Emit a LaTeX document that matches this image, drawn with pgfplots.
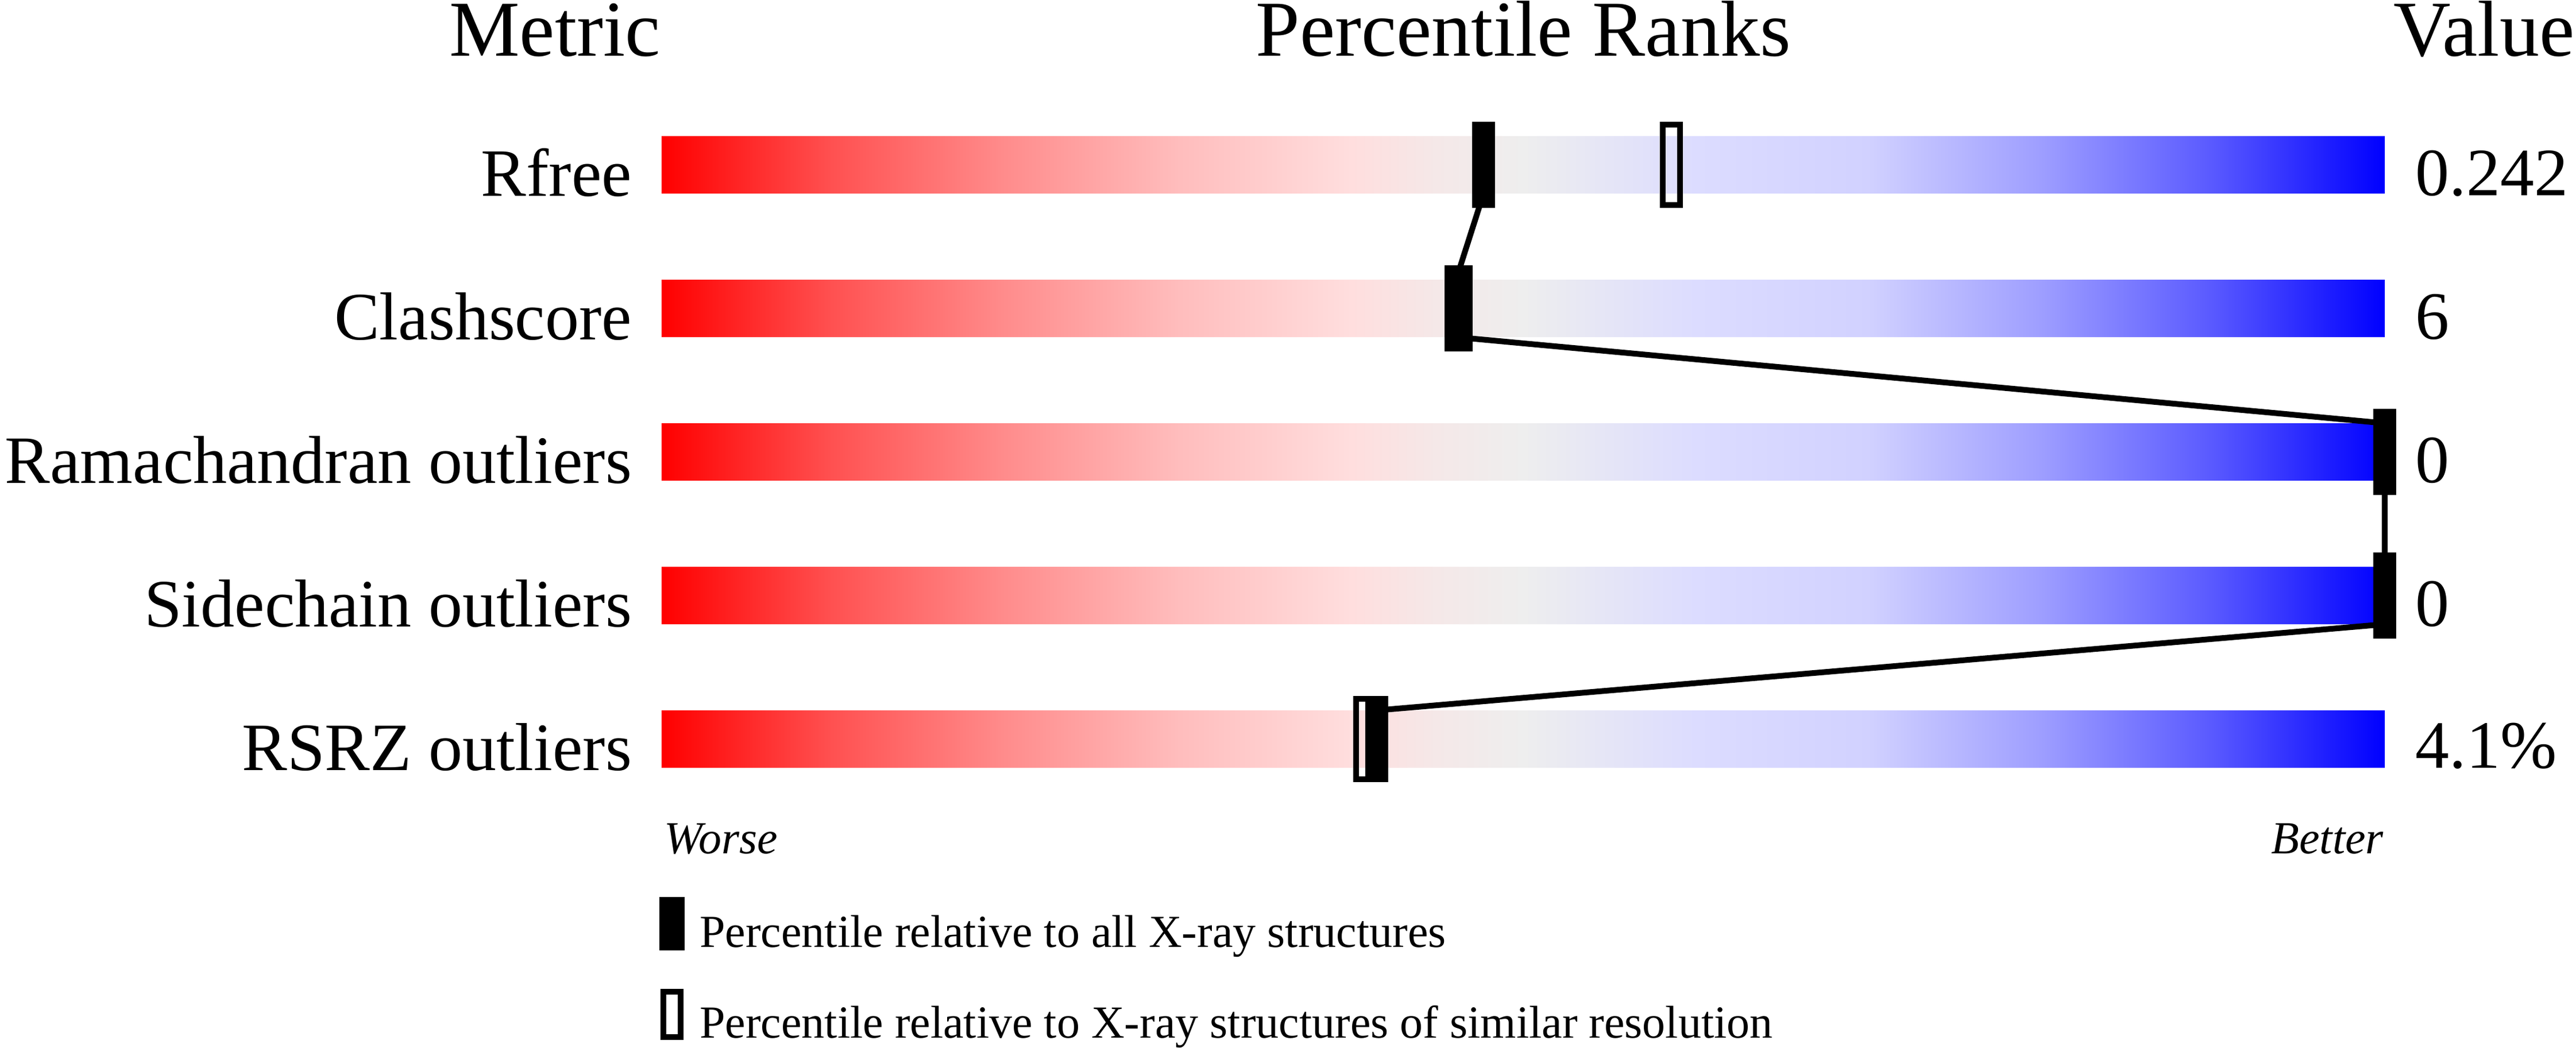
\documentclass[border=0pt]{standalone}
\usepackage{fontspec}
\setmainfont{Liberation Serif}
\usepackage{pgfplots}
\usepackage{pgfplotstable}
\pgfplotsset{compat=1.18}

\pgfdeclarehorizontalshading{pdbgrad}{100bp}{
 rgb(0bp)=(1,0,0);
 rgb(25bp)=(1,0,0);
 rgb(30bp)=(1,0.32,0.32);
 rgb(35bp)=(1,0.55,0.55);
 rgb(40bp)=(1,0.74,0.74);
 rgb(45bp)=(1,0.87,0.87);
 rgb(47.5bp)=(0.96,0.91,0.91);
 rgb(50bp)=(0.933,0.933,0.933);
 rgb(55bp)=(0.863,0.863,1);
 rgb(60bp)=(0.82,0.82,1);
 rgb(65bp)=(0.62,0.62,1);
 rgb(70bp)=(0.35,0.35,1);
 rgb(75bp)=(0,0,1);
 rgb(100bp)=(0,0,1)}

\pgfdeclareplotmark{pdbfull}{%
  \pgfpathrectanglecorners{\pgfqpoint{-2pt}{-7.5pt}}{\pgfqpoint{2pt}{7.5pt}}%
  \pgfusepathqfill}
\pgfdeclareplotmark{pdbopen}{%
  \pgfsetlinewidth{1pt}%
  \pgfpathrectanglecorners{\pgfqpoint{-1.5pt}{-7pt}}{\pgfqpoint{1.5pt}{7pt}}%
  \pgfusepathqstroke}

\pgfplotstableread{
y pall psim
1 47.7 58.6
2 46.1 46.4
3 100 100
4 100 100
5 41.5 40.8
}\ranks

\newcommand{\lab}{\fontsize{11.8}{14}\selectfont}
\newcommand{\ttl}{\fontsize{13.8}{16}\selectfont}
\newcommand{\sml}{\fontsize{8}{9.6}\selectfont}

\begin{document}
\begin{tikzpicture}
\begin{axis}[
  name=ax,
  scale only axis,
  width=300pt, height=125pt,
  xmin=0, xmax=100, ymin=0.5, ymax=5.5,
  y dir=reverse,
  clip=false,
  axis line style={draw=none},
  xtick=\empty,
  ytick={1,2,3,4,5},
  yticklabels={Rfree,Clashscore,Ramachandran outliers,Sidechain outliers,RSRZ outliers},
  major tick length=0pt,
  yticklabel style={font=\lab, anchor=base east, inner sep=0pt, xshift=-5pt, yshift=-5.4pt},
  legend cell align=left,
  legend style={at={(-0.0013,-0.12)}, anchor=north west, draw=none, fill=none,
    inner sep=0pt, outer sep=0pt, font=\sml, row sep=5.8pt,
    nodes={inner sep=0pt}, /tikz/column sep=0pt},
]
\addplot[xbar, bar width=10pt, draw=none, shading=pdbgrad, forget plot]
  coordinates {(100,1) (100,2) (100,3) (100,4) (100,5)};
\addplot[black, line width=1pt, mark=none, forget plot]
  coordinates {(47.7,1.2) (46.1,1.8) (46.1,2.2) (100,2.8) (100,3.2) (100,3.8) (100,4.2) (41.5,4.8)};
\addplot[only marks, mark=pdbfull, black,
  legend image code/.code={\fill[black] (0pt,-2.4pt) rectangle (4pt,6.5pt); \path (6.6pt,0pt);}]
  table[x=pall, y=y]{\ranks};
\addlegendentry{Percentile relative to all X-ray structures}
\addplot[only marks, mark=pdbopen, black,
  legend image code/.code={\draw[black, line width=1pt] (0.5pt,-1.9pt) rectangle (3.5pt,6.0pt); \path (6.6pt,0pt);}]
  table[x=psim, y=y]{\ranks};
\addlegendentry{Percentile relative to X-ray structures of similar resolution}

\node[anchor=base east, font=\ttl, inner sep=0pt] at (axis cs:0,0.24) {Metric};
\node[anchor=base, font=\ttl, inner sep=0pt] at (axis cs:50,0.24) {Percentile Ranks};
\node[anchor=base east, font=\ttl, inner sep=0pt] at (axis cs:111.07,0.24) {Value};

\node[anchor=base west, font=\lab, inner sep=0pt] at (axis cs:101.73,1.212) {0.242};
\node[anchor=base west, font=\lab, inner sep=0pt] at (axis cs:101.73,2.212) {6};
\node[anchor=base west, font=\lab, inner sep=0pt] at (axis cs:101.73,3.212) {0};
\node[anchor=base west, font=\lab, inner sep=0pt] at (axis cs:101.73,4.212) {0};
\node[anchor=base west, font=\lab, inner sep=0pt] at (axis cs:101.73,5.2) {4.1\%};

\node[anchor=base west, font=\sml\itshape, inner sep=0pt] at (axis cs:0.1,5.796) {Worse};
\node[anchor=base east, font=\sml\itshape, inner sep=0pt] at (axis cs:100,5.796) {Better};
\end{axis}
\pgfresetboundingbox
\path[use as bounding box] ([shift={(-115.2pt,-41.2pt)}]ax.south west) rectangle ([shift={(333.3pt,141.2pt)}]ax.south west);
\end{tikzpicture}
\end{document}
